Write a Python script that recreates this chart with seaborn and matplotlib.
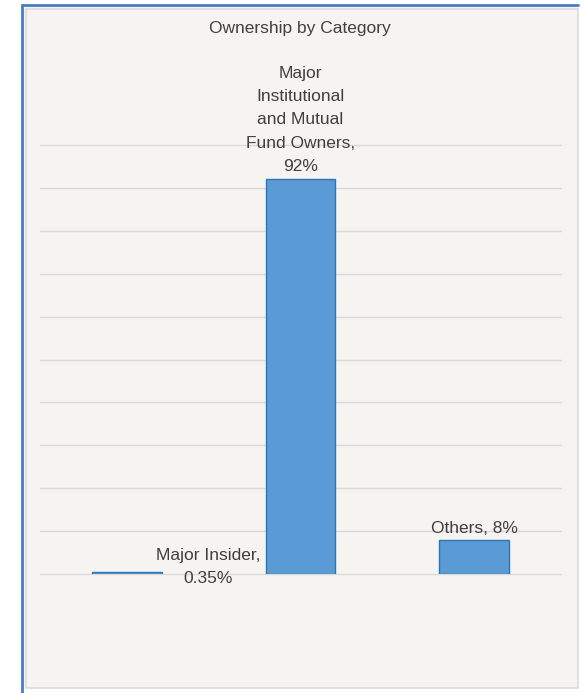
import matplotlib
matplotlib.use("Agg")
import matplotlib.pyplot as plt
from matplotlib.patches import Rectangle
from matplotlib.lines import Line2D
import seaborn as sns
import pandas as pd

categories = ["Major Insider", "Major\nInstitutional\nand Mutual\nFund Owners", "Others"]
values = [0.35, 92, 8]
value_labels = ["0.35%", "92%", "8%"]
title = "Ownership by Category"

sns.set_style("white")
plt.rcParams["font.family"] = ["Liberation Sans Narrow", "Liberation Sans", "DejaVu Sans"]

W, H = 583, 693
fig = plt.figure(figsize=(W / 100, H / 100), dpi=100, facecolor="white")

def fx(px):
    return px / W

def fy(py):
    return 1 - py / H

# panel background and frames
fig.patches.append(Rectangle((fx(22), fy(688)), fx(578) - fx(22), fy(5) - fy(688),
                             transform=fig.transFigure, facecolor="#F5F4F1",
                             edgecolor="none", zorder=-2))
fig.patches.append(Rectangle((fx(26), fy(688)), fx(578) - fx(26), fy(9) - fy(688),
                             transform=fig.transFigure, facecolor="none",
                             edgecolor="#DCDCDC", linewidth=1.2, zorder=-1))
fig.lines.append(Line2D([fx(22), fx(22)], [fy(5), fy(693)], transform=fig.transFigure,
                        color="#4A7CC4", linewidth=2, zorder=-1))
fig.lines.append(Line2D([fx(22), fx(578)], [fy(5), fy(5)], transform=fig.transFigure,
                        color="#4A7CC4", linewidth=2, zorder=-1))

ax = fig.add_axes([fx(40), fy(574), fx(561) - fx(40), fy(145) - fy(574)])
ax.set_zorder(5)
ax.set_facecolor("none")
ax.patch.set_visible(False)

df = pd.DataFrame({"cat": categories, "val": values})
sns.barplot(data=df, x="cat", y="val", ax=ax, width=0.4, color="#5B9BD5",
            edgecolor="#2E75B6", linewidth=1, saturation=1, zorder=3)

ax.set_ylim(0, 100)
ax.set_xlim(-0.5, 2.5)
ax.set_yticks(range(0, 101, 10))
ax.yaxis.grid(True, color="#DADADA", linewidth=1)
for gl in ax.yaxis.get_gridlines():
    gl.set_clip_on(False)
ax.set_axisbelow(True)
ax.tick_params(left=False, bottom=False, labelleft=False, labelbottom=False)
for s in ax.spines.values():
    s.set_visible(False)
ax.set_xlabel("")
ax.set_ylabel("")

tc = "#404040"
fs = 12.5
ls = 1.68
# Major Insider label to the right of the bar
ax.text(0 + 0.466, values[0] + 1.2, f"{categories[0]},\n{value_labels[0]}", ha="center",
        va="center", fontsize=fs, color=tc, clip_on=False, zorder=5, linespacing=ls)
# Institutional label above bar
ax.annotate(f"{categories[1]},\n{value_labels[1]}", (1, values[1]), xytext=(0, 4),
            textcoords="offset points", ha="center", va="bottom", fontsize=fs,
            color=tc, annotation_clip=False, zorder=5, linespacing=ls)
# Others label above bar
ax.annotate(f"{categories[2]}, {value_labels[2]}", (2, values[2]), xytext=(0, 3),
            textcoords="offset points", ha="center", va="bottom", fontsize=fs,
            color=tc, annotation_clip=False, zorder=5)

fig.text(fx(300), fy(28), title, ha="center", va="center", fontsize=fs, color=tc)

fig.savefig("out.png", dpi=100, facecolor="white")
